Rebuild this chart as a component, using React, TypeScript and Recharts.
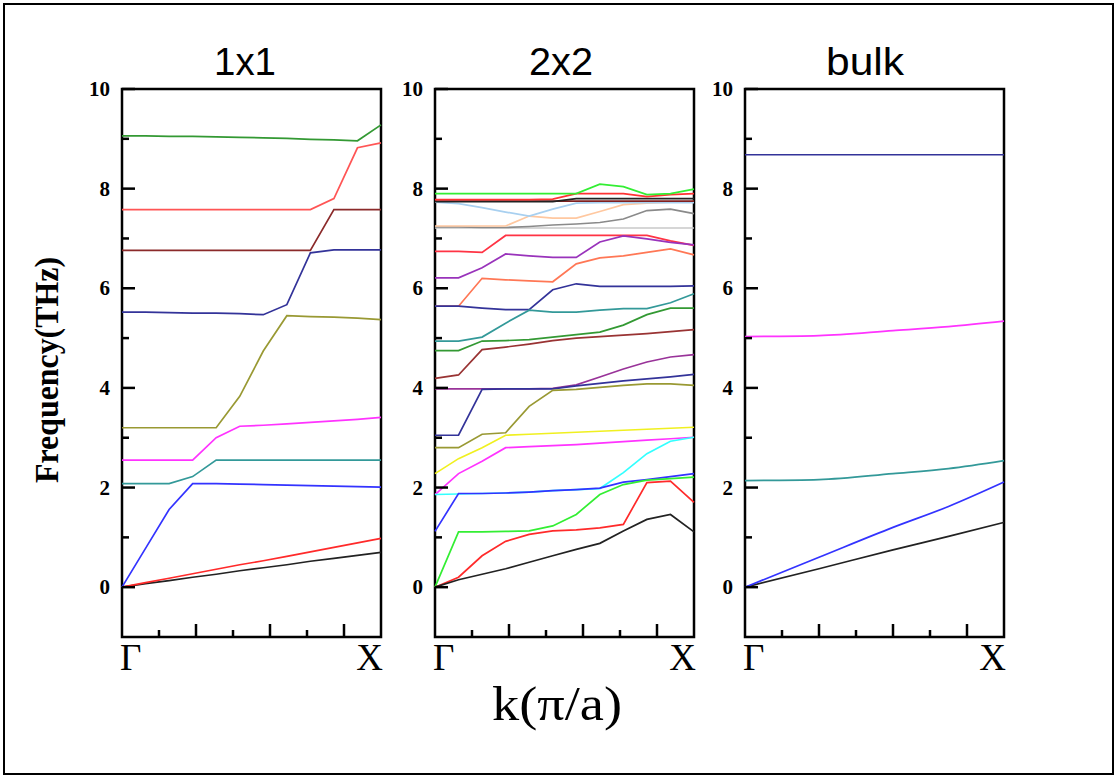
import React from 'react';
import { LineChart, Line, XAxis, YAxis, ReferenceArea } from 'recharts';

// k positions (pi/a) of the computed points
const K12 = [0, 0.0636, 0.1273, 0.1909, 0.2545, 0.3182, 0.3818, 0.4455, 0.5091, 0.5727, 0.6364, 0.7];
const KBULK = [0, 0.2, 0.4, 0.55, 0.7];

const X_TICKS = [0, 0.1, 0.2, 0.3, 0.4, 0.5, 0.6, 0.7];
const Y_TICKS = [0, 1, 2, 3, 4, 5, 6, 7, 8, 9, 10];
const PANEL_TITLES = ['1x1', '2x2', 'bulk'];

// ---- 1x1 ----
const p1Black = [0, 0.07, 0.13, 0.2, 0.26, 0.33, 0.39, 0.45, 0.52, 0.58, 0.64, 0.7];
const p1Red = [0, 0.09, 0.18, 0.27, 0.36, 0.45, 0.53, 0.62, 0.71, 0.8, 0.89, 0.98];
const p1Blue = [0, 0.78, 1.56, 2.08, 2.08, 2.07, 2.06, 2.05, 2.04, 2.03, 2.02, 2.01];
const p1Teal = [2.08, 2.08, 2.08, 2.22, 2.55, 2.55, 2.55, 2.55, 2.55, 2.55, 2.55, 2.55];
const p1Magenta = [2.55, 2.55, 2.55, 2.55, 3.0, 3.23, 3.25, 3.28, 3.31, 3.34, 3.37, 3.41];
const p1Olive = [3.2, 3.2, 3.2, 3.2, 3.2, 3.83, 4.74, 5.45, 5.43, 5.42, 5.4, 5.37];
const p1Navy = [5.52, 5.52, 5.51, 5.5, 5.5, 5.49, 5.47, 5.67, 6.71, 6.77, 6.77, 6.77];
const p1Wine = [6.76, 6.76, 6.76, 6.76, 6.76, 6.76, 6.76, 6.76, 6.76, 7.58, 7.58, 7.58];
const p1RedTop = [7.58, 7.58, 7.58, 7.58, 7.58, 7.58, 7.58, 7.58, 7.58, 7.8, 8.82, 8.92];
const p1Green = [9.06, 9.06, 9.05, 9.05, 9.04, 9.03, 9.02, 9.01, 8.99, 8.98, 8.96, 9.28];

// ---- 2x2 ----
const p2Black = [0, 0.15, 0.26, 0.37, 0.5, 0.63, 0.76, 0.88, 1.13, 1.36, 1.46, 1.11];
const p2Red = [0, 0.2, 0.63, 0.92, 1.06, 1.13, 1.15, 1.19, 1.26, 2.1, 2.13, 1.7];
const p2Lime = [0, 1.11, 1.11, 1.12, 1.13, 1.23, 1.46, 1.86, 2.06, 2.15, 2.18, 2.21];
const p2Blue = [1.12, 1.88, 1.88, 1.89, 1.91, 1.94, 1.96, 1.99, 2.11, 2.16, 2.22, 2.28];
const p2Cyan = [1.86, 1.87, 1.88, 1.89, 1.91, 1.94, 1.96, 1.98, 2.3, 2.68, 2.93, 3.01];
const p2Magenta = [1.86, 2.28, 2.53, 2.8, 2.82, 2.84, 2.86, 2.89, 2.92, 2.95, 2.98, 3.01];
const p2Yellow = [2.28, 2.58, 2.8, 3.05, 3.07, 3.09, 3.11, 3.13, 3.15, 3.17, 3.19, 3.21];
const p2Olive = [2.8, 2.8, 3.07, 3.1, 3.63, 3.95, 3.97, 4.01, 4.05, 4.08, 4.08, 4.05];
const p2Navy = [3.05, 3.05, 3.97, 3.98, 3.98, 3.98, 4.04, 4.09, 4.14, 4.18, 4.22, 4.27];
const p2Purple = [3.98, 3.98, 3.98, 3.98, 3.98, 3.99, 4.06, 4.22, 4.38, 4.52, 4.62, 4.67];
const p2Wine = [4.19, 4.26, 4.77, 4.82, 4.88, 4.95, 5.0, 5.03, 5.06, 5.09, 5.13, 5.17];
const p2Green = [4.75, 4.75, 4.94, 4.95, 4.97, 5.02, 5.07, 5.12, 5.26, 5.47, 5.6, 5.6];
const p2Teal = [4.94, 4.94, 5.02, 5.3, 5.56, 5.52, 5.52, 5.56, 5.59, 5.59, 5.71, 5.89];
const p2Royal = [5.64, 5.64, 5.6, 5.57, 5.57, 5.97, 6.09, 6.04, 6.04, 6.04, 6.04, 6.05];
const p2Coral = [5.64, 5.64, 6.2, 6.17, 6.15, 6.13, 6.49, 6.61, 6.65, 6.72, 6.79, 6.67];
const p2Violet = [6.21, 6.21, 6.41, 6.69, 6.65, 6.62, 6.62, 6.93, 7.05, 6.99, 6.92, 6.87];
const p2RedMid = [6.74, 6.74, 6.72, 7.06, 7.06, 7.06, 7.06, 7.06, 7.06, 7.06, 6.95, 6.86];
const p2Silver = [7.21, 7.21, 7.21, 7.21, 7.21, 7.21, 7.21, 7.21, 7.21, 7.21, 7.21, 7.21];
const p2Gray = [7.23, 7.23, 7.22, 7.22, 7.24, 7.27, 7.29, 7.32, 7.39, 7.56, 7.59, 7.5];
const p2Peach = [7.25, 7.25, 7.25, 7.25, 7.45, 7.41, 7.41, 7.54, 7.68, 7.71, 7.73, 7.74];
const p2LightBlue = [7.73, 7.7, 7.62, 7.53, 7.45, 7.59, 7.71, 7.72, 7.72, 7.72, 7.72, 7.72];
const p2WineTop = [7.75, 7.75, 7.75, 7.75, 7.75, 7.75, 7.75, 7.75, 7.75, 7.75, 7.75, 7.75];
const p2BlackTop = [7.74, 7.74, 7.74, 7.74, 7.74, 7.74, 7.8, 7.8, 7.8, 7.8, 7.8, 7.8];
const p2RedTop = [7.78, 7.78, 7.78, 7.78, 7.78, 7.79, 7.9, 7.9, 7.9, 7.84, 7.88, 7.9];
const p2LimeTop = [7.9, 7.9, 7.9, 7.9, 7.9, 7.9, 7.9, 8.09, 8.04, 7.88, 7.9, 7.99];

// ---- bulk ----
const bBlack = [0, 0.37, 0.75, 1.02, 1.3];
const bBlue = [0, 0.6, 1.2, 1.62, 2.11];
const bTeal = [2.14, 2.16, 2.28, 2.38, 2.54];
const bMagenta = [5.03, 5.05, 5.15, 5.23, 5.34];
const bNavy = [8.68, 8.68, 8.68, 8.68, 8.68];

type Series = { ks: number[]; vs: number[]; color: string };

const panel1: Series[] = [
  { ks: K12, vs: p1Black, color: '#222222' },
  { ks: K12, vs: p1Red, color: '#ff2a2a' },
  { ks: K12, vs: p1Blue, color: '#3333ff' },
  { ks: K12, vs: p1Teal, color: '#339999' },
  { ks: K12, vs: p1Magenta, color: '#ff33ff' },
  { ks: K12, vs: p1Olive, color: '#999933' },
  { ks: K12, vs: p1Navy, color: '#333399' },
  { ks: K12, vs: p1Wine, color: '#8b2a2a' },
  { ks: K12, vs: p1RedTop, color: '#ff5555' },
  { ks: K12, vs: p1Green, color: '#339933' },
];

const panel2: Series[] = [
  { ks: K12, vs: p2Silver, color: '#c8c8c8' },
  { ks: K12, vs: p2Gray, color: '#8a8a8a' },
  { ks: K12, vs: p2Peach, color: '#ffc8a0' },
  { ks: K12, vs: p2LightBlue, color: '#a8d0f0' },
  { ks: K12, vs: p2WineTop, color: '#802020' },
  { ks: K12, vs: p2BlackTop, color: '#222222' },
  { ks: K12, vs: p2RedTop, color: '#ff3333' },
  { ks: K12, vs: p2LimeTop, color: '#33ee33' },
  { ks: K12, vs: p2RedMid, color: '#ff3344' },
  { ks: K12, vs: p2Violet, color: '#9933bb' },
  { ks: K12, vs: p2Coral, color: '#ff7755' },
  { ks: K12, vs: p2Royal, color: '#333399' },
  { ks: K12, vs: p2Teal, color: '#339999' },
  { ks: K12, vs: p2Green, color: '#339933' },
  { ks: K12, vs: p2Wine, color: '#993333' },
  { ks: K12, vs: p2Purple, color: '#993399' },
  { ks: K12, vs: p2Navy, color: '#333399' },
  { ks: K12, vs: p2Olive, color: '#999933' },
  { ks: K12, vs: p2Yellow, color: '#f0f020' },
  { ks: K12, vs: p2Magenta, color: '#ff33ff' },
  { ks: K12, vs: p2Cyan, color: '#33ffff' },
  { ks: K12, vs: p2Blue, color: '#3333ff' },
  { ks: K12, vs: p2Lime, color: '#33ee33' },
  { ks: K12, vs: p2Red, color: '#ff2a2a' },
  { ks: K12, vs: p2Black, color: '#222222' },
];

const panel3: Series[] = [
  { ks: KBULK, vs: bBlack, color: '#222222' },
  { ks: KBULK, vs: bBlue, color: '#3333ff' },
  { ks: KBULK, vs: bTeal, color: '#339999' },
  { ks: KBULK, vs: bMagenta, color: '#ff33ff' },
  { ks: KBULK, vs: bNavy, color: '#333399' },
];

const toPts = (ks: number[], vs: number[]) => vs.map((v, i) => ({ k: ks[i], v }));

const YTick = (props: any) => {
  const { x, y, payload } = props;
  const v = payload.value as number;
  const major = v % 2 === 0;
  return (
    <g>
      <line x1={x} y1={y} x2={x + (major ? 13 : 7)} y2={y} stroke="#000" strokeWidth={2.5} />
      {major && (
        <text x={x - 12} y={y} dy={7} textAnchor="end" fontFamily="'Liberation Serif', serif" fontWeight="bold" fontSize={21} fill="#000">
          {v}
        </text>
      )}
    </g>
  );
};

const XTick = (props: any) => {
  const { x, y, index } = props;
  const last = X_TICKS.length - 1;
  if (index === 0) {
    return (
      <text x={x - 2} y={y + 33} textAnchor="start" fontFamily="'Liberation Serif', serif" fontSize={37} fill="#000">Γ</text>
    );
  }
  if (index === last) {
    return (
      <text x={x + 2} y={y + 33} textAnchor="end" fontFamily="'Liberation Serif', serif" fontSize={37} fill="#000">X</text>
    );
  }
  const len = index % 2 === 0 ? 13 : 7;
  return <line x1={x} y1={y} x2={x} y2={y - len} stroke="#000" strokeWidth={2.5} />;
};

const PLOT_LEFTS = [122, 435, 745];
const PLOT_W = 259;

function Panel({ left, series, curve }: { left: number; series: Series[]; curve: 'linear' | 'monotone' }) {
  return (
    <div style={{ position: 'absolute', left: left - 60, top: 0 }}>
      <LineChart width={60 + PLOT_W + 12} height={700} margin={{ top: 89, right: 12, bottom: 23, left: 0 }}>
        <XAxis
          dataKey="k"
          type="number"
          domain={[0, 0.7]}
          ticks={X_TICKS}
          interval={0}
          tickSize={0}
          tickMargin={0}
          tickLine={false}
          axisLine={false}
          height={40}
          tick={(p: any) => <XTick {...p} />}
        />
        <YAxis
          type="number"
          domain={[-1, 10]}
          ticks={Y_TICKS}
          interval={0}
          tickSize={0}
          tickMargin={0}
          tickLine={false}
          axisLine={false}
          width={60}
          tick={(p: any) => <YTick {...p} />}
        />
        {series.map((s, i) => (
          <Line
            key={i}
            data={toPts(s.ks, s.vs)}
            dataKey="v"
            type={curve}
            stroke={s.color}
            strokeWidth={1.7}
            dot={false}
            activeDot={false}
            isAnimationActive={false}
          />
        ))}
        <ReferenceArea x1={0} x2={0.7} y1={-1} y2={10} fill="none" fillOpacity={0} stroke="#000" strokeWidth={2.5} />
      </LineChart>
    </div>
  );
}

export default function App() {
  return (
    <div style={{ position: 'absolute', left: 0, top: 0, width: 1118, height: 778, background: '#fff' }}>
      <div style={{ position: 'absolute', left: 3, top: 3, width: 1107, height: 768, border: '2px solid #000' }} />
      <Panel left={PLOT_LEFTS[0]} series={panel1} curve="linear" />
      <Panel left={PLOT_LEFTS[1]} series={panel2} curve="linear" />
      <Panel left={PLOT_LEFTS[2]} series={panel3} curve="monotone" />
      <svg width={1118} height={778} style={{ position: 'absolute', left: 0, top: 0, pointerEvents: 'none' }}>
        <text x={245} y={75} textAnchor="middle" fontFamily="'Liberation Sans', sans-serif" fontSize={38} textLength={62} lengthAdjust="spacingAndGlyphs">{PANEL_TITLES[0]}</text>
        <text x={561} y={75} textAnchor="middle" fontFamily="'Liberation Sans', sans-serif" fontSize={38} textLength={64} lengthAdjust="spacingAndGlyphs">{PANEL_TITLES[1]}</text>
        <text x={865} y={75} textAnchor="middle" fontFamily="'Liberation Sans', sans-serif" fontSize={38} textLength={78} lengthAdjust="spacingAndGlyphs">{PANEL_TITLES[2]}</text>
        <text
          x={0}
          y={0}
          transform="translate(58,370) rotate(-90)"
          textAnchor="middle"
          fontFamily="'Liberation Serif', serif"
          fontWeight="bold"
          fontSize={34}
          textLength={226}
          lengthAdjust="spacingAndGlyphs"
        >
          Frequency(THz)
        </text>
        <text x={557} y={720} textAnchor="middle" fontFamily="'Liberation Serif', serif" fontSize={48} textLength={130} lengthAdjust="spacingAndGlyphs">
          k(π/a)
        </text>
      </svg>
    </div>
  );
}
